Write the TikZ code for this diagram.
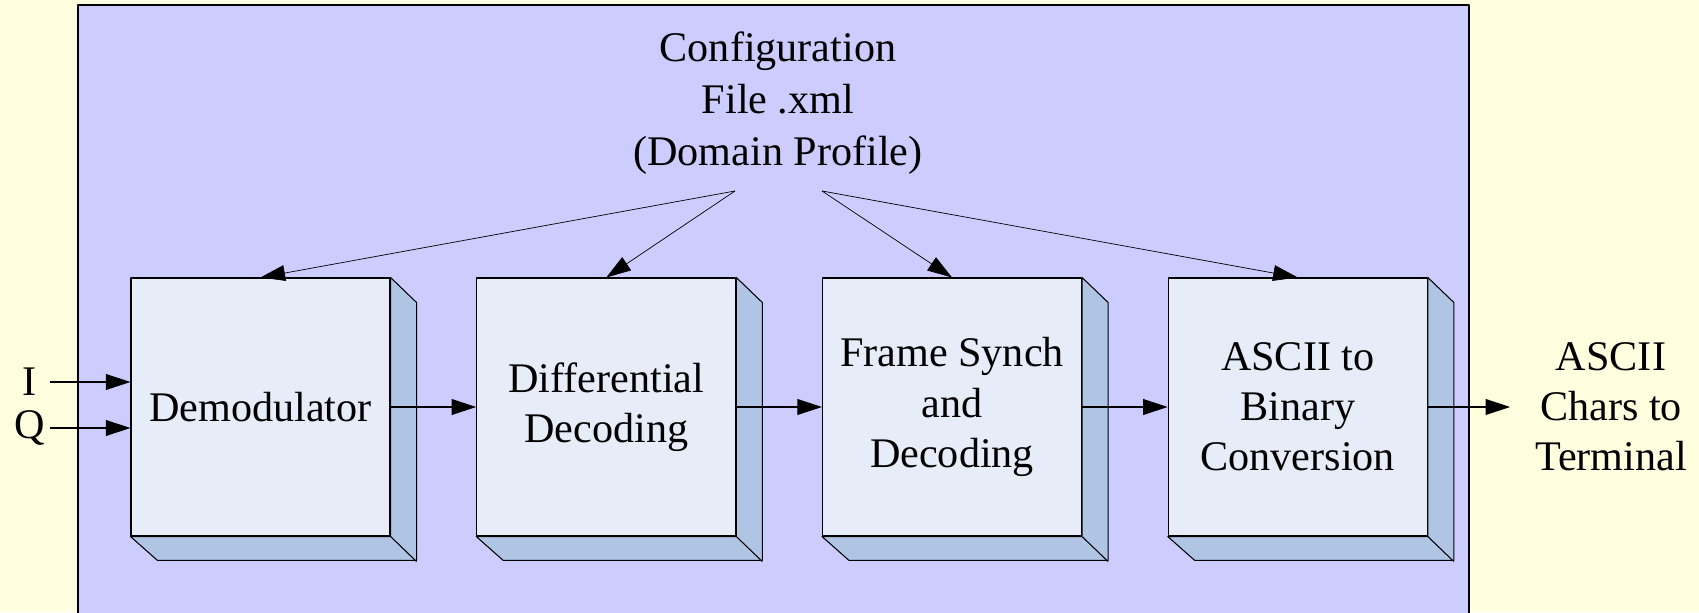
\documentclass[tikz,border=0pt]{standalone}
\usepackage{fontspec}
\setmainfont{Liberation Serif}
\usetikzlibrary{arrows.meta,positioning}
\definecolor{pagebg}{RGB}{255,255,224}
\definecolor{panelbg}{RGB}{204,204,255}
\definecolor{frontfill}{RGB}{230,237,248}
\definecolor{sidefill}{RGB}{176,196,228}

\begin{document}
\begin{tikzpicture}[>={Triangle[length=14pt,width=9pt]},font=\fontsize{24}{28.5}\selectfont,line join=round,
  block/.style={draw,line width=0.6pt,fill=frontfill,minimum width=5.18cm,minimum height=5.16cm,align=center,inner sep=0pt},
  iqlbl/.style={minimum width=0.8cm,inner sep=0pt},
  flow/.style={->,line width=0.6pt},
  cfgflow/.style={->,line width=0.4pt},
  node distance=1.714cm]
\fill[pagebg] (0,0) rectangle (33.98,12.24);
\useasboundingbox (0,0) rectangle (33.98,12.24);
\begin{scope}
\clip (0,0) rectangle (33.98,12.24);
\draw[line width=1.1pt,fill=panelbg] (1.56,-1) rectangle (29.38,12.14);
\end{scope}
% processing chain
\node[block] (demod) at (5.21,4.1) {Demodulator};
\node[block,right=of demod] (diff) {Differential\\Decoding};
\node[block,right=of diff] (sync) {Frame Synch\\and\\Decoding};
\node[block,right=of sync] (conv) {ASCII to\\Binary\\Conversion};
\foreach \b in {demod,diff,sync,conv}{
  \filldraw[fill=sidefill,line width=0.6pt] (\b.north east) -- ++(0.52,-0.5) -- ++(0,-5.16) -- ++(-5.18,0)
    -- (\b.south west) -- (\b.south east) -- cycle;
  \draw[line width=0.6pt] (\b.south east) -- ++(0.52,-0.5);
}
% config file
\node[align=center,font=\fontsize{24}{29.5}\selectfont] (cfg) at (15.56,10.18) {Configuration\\File .xml\\(Domain Profile)};
\coordinate (cfgL) at (14.7,8.42);
\coordinate (cfgR) at (16.44,8.42);
\draw[cfgflow] (cfgL) -- (demod.north);
\draw[cfgflow] (cfgL) -- (diff.north);
\draw[cfgflow] (cfgR) -- (sync.north);
\draw[cfgflow] (cfgR) -- (conv.north);
% inputs and output
\node[iqlbl] (iin) at (0.6,4.6) {I};
\node[iqlbl] (qin) at (0.6,3.68) {Q};
\draw[flow] (iin) -- (iin -| demod.west);
\draw[flow] (qin) -- (qin -| demod.west);
\draw[flow] (demod) -- (diff);
\draw[flow] (diff) -- (sync);
\draw[flow] (sync) -- (conv);
\node[align=center,inner xsep=14pt] (out) at (32.22,4.1) {ASCII\\Chars to\\Terminal};
\draw[flow] (conv) -- (out);
\end{tikzpicture}
\end{document}
